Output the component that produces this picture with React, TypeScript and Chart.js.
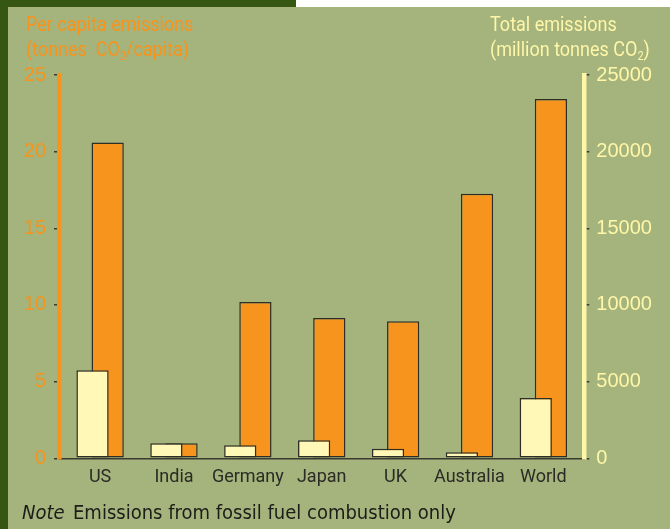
import React, { useEffect, useRef } from "react";
import { Chart, registerables } from "chart.js";

Chart.register(...registerables);

// ---- data ----
const categories = ["US", "India", "Germany", "Japan", "UK", "Australia", "World"];
// orange bars, left axis (tonnes CO2 per capita)
const perCapita = [20.6, 0.98, 10.2, 9.15, 8.94, 17.26, 23.44];
// pale bars, right axis (million tonnes CO2)
const totalEmissions = [5740, 980, 850, 1170, 630, 390, 3930];
const leftTickStep = 5;
const leftMax = 25;
const rightTickStep = 5000;
const rightMax = 25000;

// ---- styles ----
const BG = "#a4b47c";
const DARK_GREEN = "#365614";
const ORANGE = "#f7941d";
const PALE = "#fff8b6";
const PALE_TEXT = "#fff6a8";
const EDGE = "#2e2e26";
const TICK = "#3a3a30";
const LABEL = "#2b2b25";

export default function App() {
  const canvasRef = useRef<HTMLCanvasElement | null>(null);

  useEffect(() => {
    const canvas = canvasRef.current;
    if (!canvas) return;
    const chart = new Chart(canvas, {
      type: "bar",
      data: {
        datasets: [
          {
            label: "Total emissions",
            data: categories.map((_, i) => ({ x: i, y: totalEmissions[i] })),
            yAxisID: "y1",
            backgroundColor: PALE,
            borderColor: EDGE,
            borderWidth: 1.5,
            borderSkipped: false,
          },
          {
            label: "Per capita emissions",
            data: categories.map((_, i) => ({ x: i, y: perCapita[i] })),
            yAxisID: "y",
            backgroundColor: ORANGE,
            borderColor: EDGE,
            borderWidth: 1.5,
            borderSkipped: false,
          },
        ],
      },
      options: {
        responsive: false,
        animation: false,
        events: [],
        layout: { padding: { top: 75, bottom: 40.7, left: 0, right: 0 } },
        datasets: {
          bar: { categoryPercentage: 0.41, barPercentage: 2.13, grouped: true },
        },
        plugins: {
          legend: { display: false },
          tooltip: { enabled: false },
        },
        scales: {
          x: {
            type: "linear",
            min: -0.5564,
            max: 6.5546,
            offset: false,
            grid: { display: false, drawTicks: false, offset: false },
            border: { display: true, color: TICK, width: 1.5 },
            ticks: {
              autoSkip: false,
              maxRotation: 0,
              minRotation: 0,
              padding: 8,
              color: LABEL,
              font: { family: "Roboto, sans-serif", size: 18 },
              callback: (v: any) => categories[v as number] ?? "",
            },
            afterBuildTicks: (s: any) => {
              s.ticks = categories.map((_, i) => ({ value: i }));
            },
            afterFit: (s: any) => {
              s.height = 30;
            },
          },
          y: {
            position: "left",
            min: 0,
            max: leftMax,
            ticks: {
              stepSize: leftTickStep,
              padding: 8,
              color: ORANGE,
              font: { family: "'Liberation Sans', Arial, sans-serif", size: 20 },
              callback: (v: any) => String(v),
            },
            grid: {
              display: true,
              drawOnChartArea: false,
              drawTicks: true,
              tickLength: 5,
              color: TICK,
              lineWidth: 1.5,
            },
            border: { display: true, color: ORANGE, width: 4.5 },
            afterFit: (s: any) => {
              s.width = 59;
            },
          },
          y1: {
            position: "right",
            min: 0,
            max: rightMax,
            ticks: {
              stepSize: rightTickStep,
              padding: 7,
              color: PALE_TEXT,
              font: { family: "'Liberation Sans', Arial, sans-serif", size: 20 },
              callback: (v: any) => String(v),
            },
            grid: {
              display: true,
              drawOnChartArea: false,
              drawTicks: true,
              tickLength: 5,
              color: TICK,
              lineWidth: 1.5,
            },
            border: { display: true, color: PALE_TEXT, width: 4.5 },
            afterFit: (s: any) => {
              s.width = 85.7;
            },
          },
        },
      },
    } as any);
    return () => chart.destroy();
  }, []);

  const titleFont: React.CSSProperties = {
    position: "absolute",
    fontFamily: "Roboto, 'Liberation Sans', sans-serif",
    fontSize: 20,
    lineHeight: "25px",
    whiteSpace: "nowrap",
    transform: "scaleX(0.9)",
    transformOrigin: "0 0",
  };
  const sub: React.CSSProperties = { fontSize: 12, verticalAlign: "-4px", lineHeight: 0 };
  const noteFont: React.CSSProperties = {
    position: "absolute",
    top: 500,
    fontFamily: "'DejaVu Sans Condensed', 'DejaVu Sans', sans-serif",
    fontSize: 20,
    lineHeight: "24px",
    color: "#1c1c18",
    whiteSpace: "nowrap",
  };

  return (
    <div
      style={{
        position: "fixed",
        left: 0,
        top: 0,
        width: 670,
        height: 529,
        background: BG,
        overflow: "hidden",
      }}
    >
      <div style={{ position: "absolute", left: 0, top: 0, width: 8, height: 529, background: DARK_GREEN }} />
      <div style={{ position: "absolute", left: 0, top: 0, width: 296, height: 7, background: DARK_GREEN }} />
      <div style={{ position: "absolute", left: 296, top: 0, width: 374, height: 7, background: "#ffffff" }} />
      <canvas ref={canvasRef} width={670} height={529} style={{ position: "absolute", left: 0, top: 0 }} />
      <div style={{ ...titleFont, left: 26, top: 12, color: ORANGE }}>
        <div>Per capita emissions</div>
        <div>
          (tonnes&nbsp; CO<sub style={sub}>2</sub>/capita)
        </div>
      </div>
      <div style={{ ...titleFont, left: 490, top: 12, color: PALE_TEXT }}>
        <div>Total emissions</div>
        <div>
          (million tonnes CO<sub style={sub}>2</sub>)
        </div>
      </div>
      <div style={{ ...noteFont, left: 22 }}>
        <i>Note</i>
      </div>
      <div style={{ ...noteFont, left: 73 }}>Emissions from fossil fuel combustion only</div>
    </div>
  );
}
